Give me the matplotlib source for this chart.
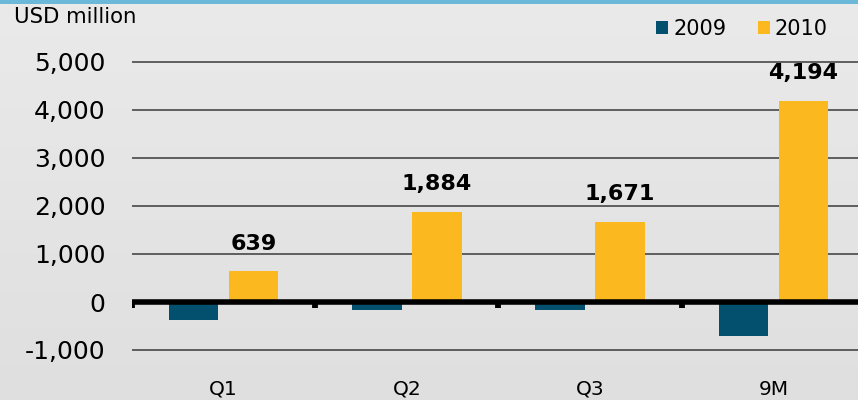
import matplotlib
matplotlib.use("Agg")
import matplotlib.pyplot as plt
import numpy as np
from matplotlib.patches import Rectangle, Patch
from matplotlib.colors import LinearSegmentedColormap

categories = ["Q1", "Q2", "Q3", "9M"]
series_names = ["2009", "2010"]
values_2009 = [-375, -165, -165, -705]
values_2010 = [639, 1884, 1671, 4194]
yticks = [-1000, 0, 1000, 2000, 3000, 4000, 5000]
ytick_labels = ["-1,000", "0", "1,000", "2,000", "3,000", "4,000", "5,000"]

c2009 = "#03506e"
c2010 = "#fbb91f"

W, H = 858, 400
fig = plt.figure(figsize=(W / 100, H / 100), dpi=100)

# background gradient
bg = fig.add_axes([0, 0, 1, 1], zorder=-10)
grad = np.linspace(0, 1, 256).reshape(-1, 1)
cmap = LinearSegmentedColormap.from_list("bg", ["#eaeaea", "#dfdfdf"])
bg.imshow(grad, aspect="auto", cmap=cmap, extent=[0, 1, 0, 1], origin="upper")
bg.set_axis_off()
fig.patches.append(Rectangle((0, 1 - 4 / H), 1, 4 / H, transform=fig.transFigure,
                             facecolor="#6cb8d8", edgecolor="none", zorder=5))

left = 132 / W
width = 733 / W
bottom = (H - 374) / H
height = 336 / H
ax = fig.add_axes([left, bottom, width, height])
ax.set_facecolor("none")
ax.set_xlim(-0.5, 3.5)
ax.set_ylim(-1500, 5500)

x = np.arange(len(categories))
bw = 0.27
off = 0.164
for t in yticks:
    if t != 0:
        ax.axhline(t, color="#3a3a3a", lw=1.1, zorder=1)
ax.bar(x - off, values_2009, width=bw, color=c2009, zorder=2)
ax.bar(x + off, values_2010, width=bw, color=c2010, zorder=2)
ax.axhline(0, color="black", lw=4.0, zorder=3)
bounds = np.arange(-0.5, len(categories) + 0.5, 1.0)
ax.vlines(bounds, -125, 0, color="black", lw=4.2, zorder=3)

for xi, v in zip(x, values_2010):
    ax.annotate(f"{v:,}", (xi + off, v), xytext=(0, 20), textcoords="offset points",
                ha="center", va="center", fontsize=16, fontweight="bold", color="black")

ax.set_yticks(yticks)
ax.set_yticklabels(ytick_labels, fontsize=18)
ax.set_xticks(x)
ax.set_xticklabels(categories, fontsize=14.5)
ax.tick_params(axis="y", length=0, pad=19)
ax.tick_params(axis="x", length=0, pad=4)
for s in ax.spines.values():
    s.set_visible(False)

fig.text(14 / W, 1 - 17 / H, "USD million", fontsize=15.3, ha="left", va="center")

handles = [Patch(facecolor=c2009, edgecolor="none"), Patch(facecolor=c2010, edgecolor="none")]
fig.legend(handles, series_names, loc="center left", bbox_to_anchor=(656 / W, 1 - 29 / H),
           ncol=2, frameon=False, fontsize=15, handlelength=0.58, handleheight=0.58,
           handletextpad=0.25, columnspacing=1.5, borderpad=0, borderaxespad=0)

fig.savefig("out.png", dpi=100)
